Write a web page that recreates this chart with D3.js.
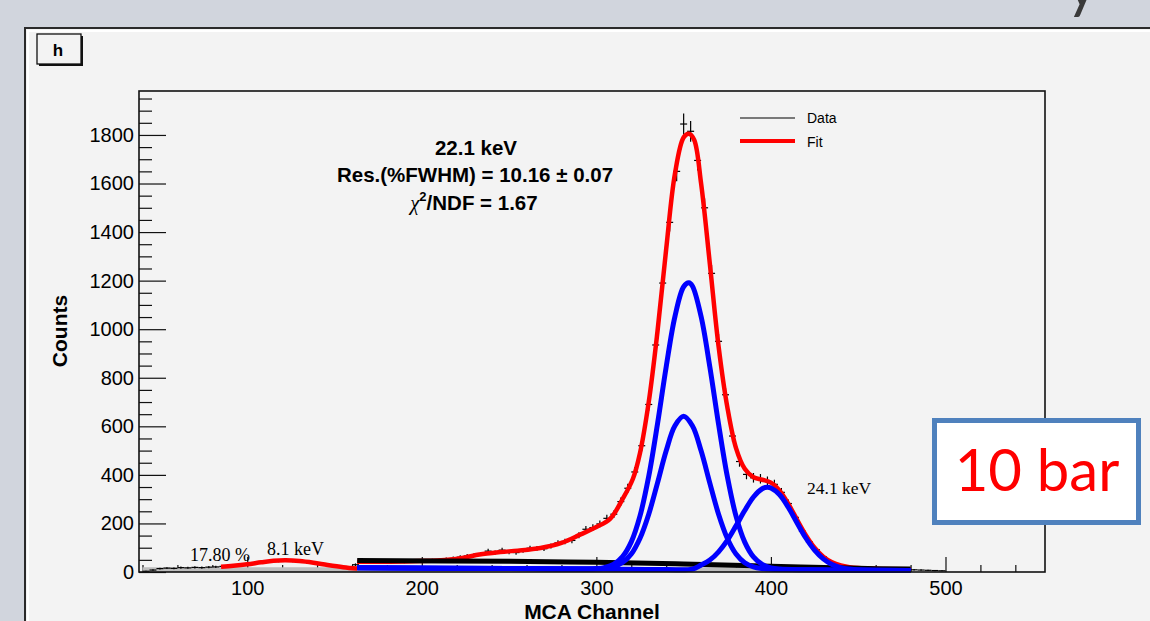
<!DOCTYPE html>
<html>
<head>
<meta charset="utf-8">
<title>MCA spectrum</title>
<script src="https://d3js.org/d3.v7.min.js"></script>
<style>
body { margin: 0; background: #d1d5dd; }
svg { display: block; }
text { font-family: "Liberation Sans", Arial, sans-serif; }
.serif { font-family: "Liberation Serif", "Times New Roman", serif; }
</style>
</head>
<body>
<div id="my_dataviz"></div>
<script type="text/javascript">
// data histogram: 4-channel bins starting at channel 40
var dataBinLo = 40, dataBinWidth = 4;
var dataCounts = [3, 8, 14, 16, 15, 18, 17, 19, 18, 20, 21, 23, 25, 27, 31, 33, 38, 41, 45, 47,
  49, 47, 44, 41, 37, 31, 28, 24, 21, 19, 30, 40, 44, 45, 44, 46, 45, 43, 46, 45,
  47, 48, 49, 52, 56, 61, 66, 70, 74, 86, 80, 90, 82, 80, 89, 98, 97, 96, 107, 120,
  126, 130, 151, 176, 183, 198, 221, 238, 290, 345, 412, 520, 690, 935, 1190, 1440, 1650, 1845, 1815, 1695,
  1500, 1230, 950, 730, 560, 455, 402, 388, 384, 374, 361, 328, 282, 225, 168, 124, 92, 63, 43, 30,
  22, 18, 15, 14, 13, 12, 12, 11, 11, 10, 9, 8, 7, 6, 5];

// total fit, low energy part (8.1 keV)
var fitLowCh = [85, 92, 100, 108, 115, 122, 130, 138, 146, 155, 163];
var fitLowVal = [22, 26, 32, 40, 46, 48, 45, 38, 29, 20, 14];

// total fit, main part (22.1 keV + 24.1 keV)
var fitCh = [163, 190, 215, 225, 233, 245, 255, 268, 280, 291, 300, 308, 315, 321, 325, 330, 335, 340, 345, 350,
  353, 356, 360, 365, 370, 375, 380, 385, 390, 395, 400, 405, 410, 415, 420, 425, 430, 435, 440, 445, 450, 460, 480];
var fitVal = [42, 43, 50, 60, 72, 82, 88, 99, 120, 155, 185, 220, 300, 385, 490, 700, 990, 1330, 1640, 1790,
  1805, 1780, 1600, 1270, 930, 680, 510, 425, 390, 380, 368, 335, 280, 215, 152, 100, 63, 40, 27, 20, 16, 13, 11];

// fit components (blue)
var comp1Ch = [163, 250, 300, 305, 310, 315, 320, 325, 330, 335, 340, 345, 350, 355, 360, 365, 370, 375, 380, 385, 390, 395, 400, 420, 480];
var comp1Val = [18, 14, 12, 15, 22, 39, 74, 139, 238, 366, 499, 602, 641, 602, 499, 366, 238, 139, 74, 38, 21, 14, 11, 9, 6];
var comp2Ch = [163, 250, 290, 300, 305, 310, 315, 320, 325, 330, 335, 340, 345, 350, 353, 355, 360, 365, 370, 375, 380, 385, 390, 395, 400, 405, 420, 480];
var comp2Val = [18, 14, 13, 14, 19, 32, 63, 124, 231, 394, 609, 845, 1052, 1175, 1191, 1178, 1052, 845, 609, 394, 230, 123, 62, 31, 17, 12, 9, 6];
var comp3Ch = [163, 250, 300, 340, 355, 360, 365, 370, 375, 380, 385, 390, 395, 398, 400, 405, 410, 415, 420, 425, 430, 435, 440, 445, 450, 480];
var comp3Val = [18, 14, 12, 10, 12, 29, 49, 83, 130, 190, 253, 309, 343, 349, 346, 318, 266, 202, 140, 90, 54, 31, 18, 12, 9, 6];

// background component (black)
var bgCh = [163, 250, 300, 350, 400, 450, 480];
var bgVal = [47, 44, 40, 33, 24, 15, 12];

// grey band along the bottom
var bandCh = [40, 470];
var bandVal = [20, 20];

var xMajor = [100, 200, 300, 400, 500];
var yMajor = [0, 200, 400, 600, 800, 1000, 1200, 1400, 1600, 1800];

var W = 1150, H = 621;
var frame = {left: 139, right: 1045, top: 91, bottom: 572};

var svg = d3.select("#my_dataviz")
  .append("svg")
    .attr("width", W)
    .attr("height", H);

// slide background and ROOT canvas
svg.append("rect").attr("width", W).attr("height", H).attr("fill", "#d1d5dd");
svg.append("text")
    .attr("x", 1066).attr("y", 6)
    .style("font-family", "Lato, 'Open Sans', sans-serif")
    .style("font-size", "62px")
    .attr("fill", "#3a3a3a")
    .text("y");
svg.append("rect")
    .attr("x", 25).attr("y", 28).attr("width", W).attr("height", H)
    .attr("fill", "#f3f3f3").attr("stroke", "#2a2a2a").attr("stroke-width", 2);
svg.append("path")
    .attr("d", "M28," + H + "V31H" + W)
    .attr("fill", "none").attr("stroke", "#ffffff").attr("stroke-width", 2);

// title box "h"
svg.append("rect").attr("x", 39).attr("y", 36).attr("width", 44).attr("height", 30).attr("fill", "#111");
svg.append("rect")
    .attr("x", 37).attr("y", 34).attr("width", 44).attr("height", 30)
    .attr("fill", "#f3f3f3").attr("stroke", "#111").attr("stroke-width", 1.3);
svg.append("text")
    .attr("x", 58).attr("y", 56)
    .attr("text-anchor", "middle")
    .style("font-size", "17px").style("font-weight", "bold")
    .text("h");

var x = d3.scaleLinear().domain([38, 557]).range([frame.left, frame.right]);
var y = d3.scaleLinear().domain([0, 1981]).range([frame.bottom, frame.top]);

var plot = svg.append("g");

// axes (ticks inside the frame, ROOT style)
var xMinor = d3.range(40, 557, 20).filter(function(v) { return v % 100 !== 0; });
plot.append("g")
    .attr("transform", "translate(0," + frame.bottom + ")")
    .call(d3.axisBottom(x).tickValues(xMinor).tickSizeInner(-7).tickSizeOuter(0).tickFormat(""))
    .call(function(g) { g.select(".domain").remove(); });
plot.append("g")
    .attr("transform", "translate(0," + frame.bottom + ")")
    .call(d3.axisBottom(x).tickValues(xMajor).tickSizeInner(-15).tickSizeOuter(0).tickPadding(9).tickFormat(d3.format("d")))
    .call(function(g) { g.select(".domain").remove(); })
    .selectAll("text").style("font-size", "20px").attr("fill", "#000");

var yMinor = d3.range(50, 1981, 50).filter(function(v) { return v % 200 !== 0; });
plot.append("g")
    .attr("transform", "translate(" + frame.left + ",0)")
    .call(d3.axisLeft(y).tickValues(yMinor).tickSizeInner(-13).tickSizeOuter(0).tickFormat(""))
    .call(function(g) { g.select(".domain").remove(); });
plot.append("g")
    .attr("transform", "translate(" + frame.left + ",0)")
    .call(d3.axisLeft(y).tickValues(yMajor).tickSizeInner(-27).tickSizeOuter(0).tickPadding(5).tickFormat(d3.format("d")))
    .call(function(g) { g.select(".domain").remove(); })
    .selectAll("text").style("font-size", "20px").attr("fill", "#000");
plot.selectAll(".tick line").attr("stroke", "#111").attr("stroke-width", 1.2);

// grey band
plot.append("path")
    .datum(d3.zip(bandCh, bandVal))
    .attr("fill", "#bdbdbd")
    .attr("d", d3.area().x(function(d) { return x(d[0]); }).y0(y(0)).y1(function(d) { return y(d[1]); }));

var line = d3.line()
    .x(function(d) { return x(d[0]); })
    .y(function(d) { return y(d[1]); })
    .curve(d3.curveCatmullRom.alpha(0.5));

// data histogram with error bars (drawn below the fit)
var bins = dataCounts.map(function(v, i) {
  return {lo: dataBinLo + i * dataBinWidth, hi: dataBinLo + (i + 1) * dataBinWidth, v: v};
});
var hist = plot.append("g").attr("stroke", "#000").attr("stroke-width", 1.2);
hist.selectAll("line.bin")
  .data(bins)
  .enter().append("line")
    .attr("class", "bin")
    .attr("x1", function(d) { return x(d.lo); })
    .attr("x2", function(d) { return x(d.hi); })
    .attr("y1", function(d) { return y(d.v); })
    .attr("y2", function(d) { return y(d.v); });
hist.selectAll("line.err")
  .data(bins)
  .enter().append("line")
    .attr("class", "err")
    .attr("x1", function(d) { return x((d.lo + d.hi) / 2); })
    .attr("x2", function(d) { return x((d.lo + d.hi) / 2); })
    .attr("y1", function(d) { return y(Math.max(0, d.v - Math.sqrt(d.v))); })
    .attr("y2", function(d) { return y(d.v + Math.sqrt(d.v)); });

// total fit (red)
[[fitLowCh, fitLowVal], [fitCh, fitVal]].forEach(function(s) {
  plot.append("path")
      .datum(d3.zip(s[0], s[1]))
      .attr("fill", "none").attr("stroke", "#ff0000").attr("stroke-width", 4.5)
      .attr("d", line);
});

// background (black) and components (blue)
plot.append("path")
    .datum(d3.zip(bgCh, bgVal))
    .attr("fill", "none").attr("stroke", "#000").attr("stroke-width", 5)
    .attr("d", line);
[[comp3Ch, comp3Val], [comp1Ch, comp1Val], [comp2Ch, comp2Val]].forEach(function(s) {
  plot.append("path")
      .datum(d3.zip(s[0], s[1]))
      .attr("fill", "none").attr("stroke", "#0000ff").attr("stroke-width", 5)
      .attr("d", line);
});

// frame
plot.append("rect")
    .attr("x", frame.left).attr("y", frame.top)
    .attr("width", frame.right - frame.left).attr("height", frame.bottom - frame.top)
    .attr("fill", "none").attr("stroke", "#111").attr("stroke-width", 1.6);

// axis titles
svg.append("text")
    .attr("x", 592).attr("y", 619)
    .attr("text-anchor", "middle")
    .style("font-size", "21px").style("font-weight", "bold")
    .text("MCA Channel");
svg.append("text")
    .attr("transform", "translate(67,331) rotate(-90)")
    .attr("text-anchor", "middle")
    .style("font-size", "21px").style("font-weight", "bold")
    .text("Counts");

// fit result text
var stat = svg.append("g").attr("text-anchor", "middle").style("font-size", "20.5px").style("font-weight", "bold");
stat.append("text").attr("x", 476).attr("y", 155).text("22.1 keV");
stat.append("text").attr("x", 475).attr("y", 182).text("Res.(%FWHM) = 10.16 \u00b1 0.07");
var chi = stat.append("text").attr("x", 474).attr("y", 210);
chi.append("tspan").style("font-style", "italic").style("font-family", "'Liberation Serif', serif").style("font-weight", "normal").text("\u03c7");
chi.append("tspan").attr("dy", -9).style("font-size", "13px").text("2");
chi.append("tspan").attr("dy", 9).text("/NDF = 1.67");

// peak labels
var lab = svg.append("g").attr("class", "serif").style("font-size", "18px").attr("fill", "#000");
lab.append("text").attr("class", "serif").attr("x", 190).attr("y", 561).text("17.80 %");
lab.append("text").attr("class", "serif").attr("x", 267).attr("y", 555).text("8.1 keV");
lab.append("text").attr("class", "serif").attr("x", 807).attr("y", 494).style("font-size", "17.5px").text("24.1 keV");

// legend
var legend = svg.append("g");
legend.append("line").attr("x1", 740).attr("x2", 795).attr("y1", 118).attr("y2", 118).attr("stroke", "#000").attr("stroke-width", 1.2);
legend.append("line").attr("x1", 740).attr("x2", 795).attr("y1", 141).attr("y2", 141).attr("stroke", "#ff0000").attr("stroke-width", 4);
legend.append("text").attr("x", 807).attr("y", 123).style("font-size", "14px").text("Data");
legend.append("text").attr("x", 807).attr("y", 147).style("font-size", "14px").text("Fit");

// "10 bar" annotation box
svg.append("rect")
    .attr("x", 934.5).attr("y", 420.5).attr("width", 204).attr("height", 102)
    .attr("fill", "#ffffff").attr("stroke", "#4f81bd").attr("stroke-width", 5);
svg.append("text")
    .attr("x", 1037).attr("y", 491)
    .attr("text-anchor", "middle")
    .style("font-family", "Lato, 'Open Sans', sans-serif")
    .style("font-size", "58px")
    .attr("fill", "#ff0000")
    .text("10 bar");
</script>
</body>
</html>
